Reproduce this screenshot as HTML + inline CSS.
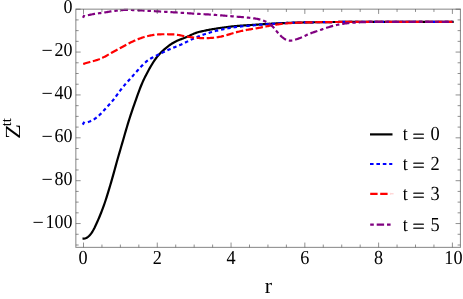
<!DOCTYPE html>
<html lang="en"><head><meta charset="utf-8"><title>Z^tt vs r</title>
<style>html,body{margin:0;padding:0;background:#fff}body{width:463px;height:299px;overflow:hidden}</style>
</head><body>
<svg width="463" height="299" viewBox="0 0 463 299" style="display:block">
<rect width="463" height="299" fill="#fff"/>
<g fill="none" stroke-width="2.2" stroke-linejoin="round">
<path d="M82.50 238.70 83.50 238.62 84.42 238.54 85.34 238.32 86.27 237.94 87.19 237.43 88.11 236.77 89.03 235.96 89.96 235.00 90.88 233.86 91.80 232.55 92.72 231.07 93.64 229.44 94.57 227.67 95.49 225.79 96.41 223.82 97.33 221.78 98.26 219.67 99.18 217.51 100.10 215.29 101.02 213.00 101.94 210.65 102.87 208.20 103.79 205.66 104.71 203.01 105.63 200.25 106.56 197.38 107.48 194.42 108.40 191.40 109.32 188.34 110.25 185.23 111.17 182.09 112.09 178.90 113.01 175.65 113.93 172.34 114.86 169.00 115.78 165.64 116.70 162.30 117.62 159.01 118.55 155.78 119.47 152.60 120.39 149.44 121.31 146.30 122.23 143.14 123.16 139.96 124.08 136.77 125.00 133.57 125.92 130.39 126.85 127.26 127.77 124.19 128.69 121.19 129.61 118.26 130.53 115.41 131.46 112.62 132.38 109.89 133.30 107.21 134.22 104.56 135.15 101.93 136.07 99.31 136.99 96.70 137.91 94.12 138.84 91.59 139.76 89.12 140.68 86.75 141.60 84.49 142.52 82.34 143.45 80.31 144.37 78.37 145.29 76.50 146.21 74.70 147.14 72.95 148.06 71.24 148.98 69.56 149.90 67.91 150.82 66.30 151.75 64.73 152.67 63.20 153.59 61.74 154.51 60.34 155.44 59.01 156.36 57.76 157.28 56.59 158.20 55.49 159.12 54.46 160.05 53.48 160.97 52.54 161.89 51.63 162.81 50.76 163.74 49.92 164.66 49.10 165.58 48.30 166.50 47.54 167.42 46.80 168.35 46.09 169.27 45.41 170.19 44.76 171.11 44.13 172.04 43.54 172.96 42.98 173.88 42.45 174.80 41.95 175.72 41.48 176.65 41.04 177.57 40.62 178.49 40.22 179.41 39.84 180.34 39.47 181.26 39.12 182.18 38.77 183.10 38.42 184.03 38.06 184.95 37.70 185.87 37.33 186.79 36.95 187.71 36.55 188.64 36.13 189.56 35.70 190.48 35.26 191.40 34.81 192.33 34.37 193.25 33.94 194.17 33.54 195.09 33.17 196.01 32.84 196.94 32.53 197.86 32.26 198.78 32.01 199.70 31.78 200.63 31.56 201.55 31.35 202.47 31.15 203.39 30.95 204.31 30.76 205.24 30.57 206.16 30.38 207.08 30.20 208.00 30.03 208.93 29.85 209.85 29.68 210.77 29.51 211.69 29.35 212.62 29.18 213.54 29.02 214.46 28.87 215.38 28.71 216.30 28.56 217.23 28.41 218.15 28.27 219.07 28.13 219.99 27.99 220.92 27.86 221.84 27.73 222.76 27.60 223.68 27.47 224.60 27.35 225.53 27.23 226.45 27.10 227.37 26.99 228.29 26.87 229.22 26.76 230.14 26.65 231.06 26.55 231.98 26.45 232.90 26.35 233.83 26.26 234.75 26.17 235.67 26.09 236.59 26.01 237.52 25.93 238.44 25.85 239.36 25.78 240.28 25.71 241.20 25.65 242.13 25.58 243.05 25.52 243.97 25.46 244.89 25.39 245.82 25.34 246.74 25.28 247.66 25.22 248.58 25.16 249.50 25.10 250.43 25.05 251.35 24.99 252.27 24.93 253.19 24.87 254.12 24.81 255.04 24.75 255.96 24.69 256.88 24.63 257.81 24.57 258.73 24.51 259.65 24.44 260.57 24.38 261.49 24.31 262.42 24.25 263.34 24.18 264.26 24.12 265.18 24.06 266.11 24.00 267.03 23.94 267.95 23.88 268.87 23.83 269.79 23.78 270.72 23.73 271.64 23.68 272.56 23.63 273.48 23.58 274.41 23.53 275.33 23.48 276.25 23.44 277.17 23.39 278.09 23.34 279.02 23.30 279.94 23.25 280.86 23.21 281.78 23.17 282.71 23.12 283.63 23.08 284.55 23.04 285.47 23.00 286.39 22.96 287.32 22.92 288.24 22.89 289.16 22.85 290.08 22.82 291.01 22.78 291.93 22.75 292.85 22.72 293.77 22.70 294.70 22.67 295.62 22.64 296.54 22.62 297.46 22.60 298.38 22.58 299.31 22.56 300.23 22.54 301.15 22.52 302.07 22.50 303.00 22.48 303.92 22.46 304.84 22.44 305.76 22.42 306.68 22.40 307.61 22.38 308.53 22.37 309.45 22.35 310.37 22.33 311.30 22.32 312.22 22.30 313.14 22.28 314.06 22.27 314.98 22.25 315.91 22.24 316.83 22.22 317.75 22.21 318.67 22.19 319.60 22.18 320.52 22.16 321.44 22.15 322.36 22.14 323.28 22.13 324.21 22.11 325.13 22.10 326.05 22.09 326.97 22.08 327.90 22.07 328.82 22.06 329.74 22.05 330.66 22.04 331.59 22.03 332.51 22.02 333.43 22.01 334.35 22.00 335.27 22.00 336.20 21.99 337.12 21.98 338.04 21.98 338.96 21.97 339.89 21.96 340.81 21.96 341.73 21.95 342.65 21.95 343.57 21.95 344.50 21.94 345.42 21.94 346.34 21.93 347.26 21.93 348.19 21.92 349.11 21.92 350.03 21.92 350.95 21.91 351.87 21.91 352.80 21.91 353.72 21.90 354.64 21.90 355.56 21.89 356.49 21.89 357.41 21.89 358.33 21.89 359.25 21.88 360.18 21.88 361.10 21.88 362.02 21.87 362.94 21.87 363.86 21.87 364.79 21.87 365.71 21.86 366.63 21.86 367.55 21.86 368.48 21.86 369.40 21.86 370.32 21.85 371.24 21.85 372.16 21.85 373.09 21.85 374.01 21.85 374.93 21.85 375.85 21.85 376.78 21.85 377.70 21.85 378.62 21.85 379.54 21.85 380.46 21.85 381.39 21.85 382.31 21.85 383.23 21.85 384.15 21.85 385.08 21.85 386.00 21.85 386.92 21.85 387.84 21.85 388.76 21.85 389.69 21.85 390.61 21.85 391.53 21.85 392.45 21.85 393.38 21.85 394.30 21.85 395.22 21.85 396.14 21.85 397.06 21.85 397.99 21.85 398.91 21.85 399.83 21.85 400.75 21.85 401.68 21.85 402.60 21.85 403.52 21.85 404.44 21.85 405.37 21.85 406.29 21.85 407.21 21.85 408.13 21.85 409.05 21.85 409.98 21.85 410.90 21.85 411.82 21.85 412.74 21.85 413.67 21.85 414.59 21.85 415.51 21.85 416.43 21.85 417.35 21.85 418.28 21.85 419.20 21.85 420.12 21.85 421.04 21.85 421.97 21.85 422.89 21.85 423.81 21.85 424.73 21.85 425.65 21.85 426.58 21.85 427.50 21.85 428.42 21.85 429.34 21.85 430.27 21.85 431.19 21.85 432.11 21.85 433.03 21.85 433.95 21.85 434.88 21.85 435.80 21.85 436.72 21.85 437.64 21.85 438.57 21.85 439.49 21.85 440.41 21.85 441.33 21.85 442.26 21.85 443.18 21.85 444.10 21.85 445.02 21.85 445.94 21.85 446.87 21.85 447.79 21.85 448.71 21.85 449.63 21.85 450.56 21.85 451.48 21.85 452.40 21.85 L453.70 21.85" stroke="#000"/>
<path d="M82.75 124.6 L84.35 121.8" stroke="#0000ff" stroke-width="2.2"/>
<path d="M87.89 122.10 88.80 121.78 89.71 121.43 90.62 121.04 91.54 120.62 92.45 120.16 93.36 119.66 94.27 119.11 95.18 118.51 96.09 117.86 97.00 117.16 97.91 116.41 98.83 115.61 99.74 114.77 100.65 113.89 101.56 112.97 102.47 112.03 103.38 111.06 104.29 110.07 105.20 109.07 106.12 108.06 107.03 107.05 107.94 106.04 108.85 105.03 109.76 104.02 110.67 103.00 111.58 101.95 112.49 100.87 113.41 99.75 114.32 98.58 115.23 97.38 116.14 96.14 117.05 94.89 117.96 93.63 118.87 92.38 119.78 91.14 120.70 89.92 121.61 88.73 122.52 87.57 123.43 86.45 124.34 85.37 125.25 84.32 126.16 83.30 127.07 82.30 127.99 81.31 128.90 80.30 129.81 79.29 130.72 78.26 131.63 77.22 132.54 76.18 133.45 75.14 134.36 74.11 135.28 73.09 136.19 72.08 137.10 71.08 138.01 70.08 138.92 69.07 139.83 68.07 140.74 67.07 141.66 66.09 142.57 65.13 143.48 64.21 144.39 63.33 145.30 62.49 146.21 61.71 147.12 60.98 148.03 60.31 148.95 59.68 149.86 59.09 150.77 58.53 151.68 58.00 152.59 57.49 153.50 57.01 154.41 56.54 155.32 56.08 156.24 55.63 157.15 55.18 158.06 54.75 158.97 54.31 159.88 53.87 160.79 53.44 161.70 53.00 162.61 52.57 163.53 52.13 164.44 51.69 165.35 51.25 166.26 50.81 167.17 50.38 168.08 49.96 168.99 49.54 169.90 49.14 170.82 48.74 171.73 48.36 172.64 47.99 173.55 47.62 174.46 47.26 175.37 46.90 176.28 46.54 177.19 46.19 178.11 45.82 179.02 45.46 179.93 45.08 180.84 44.69 181.75 44.29 182.66 43.87 183.57 43.44 184.49 43.00 185.40 42.55 186.31 42.09 187.22 41.63 188.13 41.17 189.04 40.71 189.95 40.26 190.86 39.81 191.78 39.37 192.69 38.94 193.60 38.52 194.51 38.11 195.42 37.71 196.33 37.32 197.24 36.94 198.15 36.58 199.07 36.22 199.98 35.87 200.89 35.53 201.80 35.20 202.71 34.88 203.62 34.57 204.53 34.26 205.44 33.96 206.36 33.67 207.27 33.38 208.18 33.10 209.09 32.83 210.00 32.55 210.91 32.29 211.82 32.02 212.73 31.77 213.65 31.52 214.56 31.27 215.47 31.03 216.38 30.80 217.29 30.57 218.20 30.35 219.11 30.14 220.02 29.93 220.94 29.72 221.85 29.52 222.76 29.33 223.67 29.14 224.58 28.95 225.49 28.76 226.40 28.58 227.32 28.41 228.23 28.23 229.14 28.07 230.05 27.91 230.96 27.75 231.87 27.61 232.78 27.47 233.69 27.33 234.61 27.20 235.52 27.08 236.43 26.97 237.34 26.86 238.25 26.75 239.16 26.65 240.07 26.55 240.98 26.46 241.90 26.37 242.81 26.28 243.72 26.19 244.63 26.11 245.54 26.03 246.45 25.95 247.36 25.87 248.27 25.79 249.19 25.71 250.10 25.64 251.01 25.56 251.92 25.48 252.83 25.41 253.74 25.33 254.65 25.25 255.56 25.17 256.48 25.10 257.39 25.02 258.30 24.94 259.21 24.85 260.12 24.77 261.03 24.69 261.94 24.61 262.85 24.53 263.77 24.45 264.68 24.38 265.59 24.30 266.50 24.23 267.41 24.16 268.32 24.09 269.23 24.03 270.14 23.97 271.06 23.91 271.97 23.85 272.88 23.79 273.79 23.73 274.70 23.68 275.61 23.62 276.52 23.56 277.44 23.51 278.35 23.45 279.26 23.40 280.17 23.35 281.08 23.29 281.99 23.24 282.90 23.19 283.81 23.14 284.73 23.09 285.64 23.05 286.55 23.00 287.46 22.96 288.37 22.92 289.28 22.88 290.19 22.84 291.10 22.80 292.02 22.77 292.93 22.73 293.84 22.70 294.75 22.67 295.66 22.65 296.57 22.62 297.48 22.60 298.39 22.57 299.31 22.55 300.22 22.53 301.13 22.51 302.04 22.49 302.95 22.47 303.86 22.45 304.77 22.44 305.68 22.42 306.60 22.40 307.51 22.38 308.42 22.36 309.33 22.34 310.24 22.33 311.15 22.31 312.06 22.29 312.97 22.28 313.89 22.26 314.80 22.25 315.71 22.23 316.62 22.22 317.53 22.20 318.44 22.19 319.35 22.18 320.27 22.16 321.18 22.15 322.09 22.14 323.00 22.12 323.91 22.11 324.82 22.10 325.73 22.09 326.64 22.08 327.56 22.07 328.47 22.06 329.38 22.05 330.29 22.04 331.20 22.03 332.11 22.02 333.02 22.01 333.93 22.01 334.85 22.00 335.76 21.99 336.67 21.98 337.58 21.98 338.49 21.97 339.40 21.97 340.31 21.96 341.22 21.96 342.14 21.95 343.05 21.95 343.96 21.94 344.87 21.94 345.78 21.94 346.69 21.93 347.60 21.93 348.51 21.92 349.43 21.92 350.34 21.92 351.25 21.91 352.16 21.91 353.07 21.90 353.98 21.90 354.89 21.90 355.80 21.89 356.72 21.89 357.63 21.89 358.54 21.88 359.45 21.88 360.36 21.88 361.27 21.88 362.18 21.87 363.10 21.87 364.01 21.87 364.92 21.87 365.83 21.86 366.74 21.86 367.65 21.86 368.56 21.86 369.47 21.86 370.39 21.85 371.30 21.85 372.21 21.85 373.12 21.85 374.03 21.85 374.94 21.85 375.85 21.85 376.76 21.85 377.68 21.85 378.59 21.85 379.50 21.85 380.41 21.85 381.32 21.85 382.23 21.85 383.14 21.85 384.05 21.85 384.97 21.85 385.88 21.85 386.79 21.85 387.70 21.85 388.61 21.85 389.52 21.85 390.43 21.85 391.34 21.85 392.26 21.85 393.17 21.85 394.08 21.85 394.99 21.85 395.90 21.85 396.81 21.85 397.72 21.85 398.63 21.85 399.55 21.85 400.46 21.85 401.37 21.85 402.28 21.85 403.19 21.85 404.10 21.85 405.01 21.85 405.92 21.85 406.84 21.85 407.75 21.85 408.66 21.85 409.57 21.85 410.48 21.85 411.39 21.85 412.30 21.85 413.22 21.85 414.13 21.85 415.04 21.85 415.95 21.85 416.86 21.85 417.77 21.85 418.68 21.85 419.59 21.85 420.51 21.85 421.42 21.85 422.33 21.85 423.24 21.85 424.15 21.85 425.06 21.85 425.97 21.85 426.88 21.85 427.80 21.85 428.71 21.85 429.62 21.85 430.53 21.85 431.44 21.85 432.35 21.85 433.26 21.85 434.17 21.85 435.09 21.85 436.00 21.85 436.91 21.85 437.82 21.85 438.73 21.85 439.64 21.85 440.55 21.85 441.46 21.85 442.38 21.85 443.29 21.85 444.20 21.85 445.11 21.85 446.02 21.85 446.93 21.85 447.84 21.85 448.75 21.85 449.67 21.85 450.58 21.85 451.49 21.85 452.40 21.85" stroke="#0000ff" stroke-dasharray="3.5 2.9"/>
<path d="M83.21 63.94 83.50 63.86 84.42 63.58 85.34 63.30 86.27 63.03 87.19 62.76 88.11 62.49 89.03 62.23 89.96 61.97 90.88 61.72 91.80 61.47 92.72 61.22 93.64 60.97 94.57 60.71 95.49 60.44 96.41 60.16 97.33 59.87 98.26 59.55 99.18 59.21 100.10 58.84 101.02 58.45 101.94 58.04 102.87 57.60 103.79 57.14 104.71 56.67 105.63 56.17 106.56 55.67 107.48 55.15 108.40 54.63 109.32 54.10 110.25 53.57 111.17 53.05 112.09 52.53 113.01 52.01 113.93 51.50 114.86 50.99 115.78 50.48 116.70 49.98 117.62 49.48 118.55 48.98 119.47 48.48 120.39 47.97 121.31 47.46 122.23 46.95 123.16 46.44 124.08 45.93 125.00 45.42 125.92 44.92 126.85 44.42 127.77 43.94 128.69 43.46 129.61 42.99 130.53 42.53 131.46 42.08 132.38 41.64 133.30 41.21 134.22 40.79 135.15 40.39 136.07 40.00 136.99 39.61 137.91 39.24 138.84 38.88 139.76 38.53 140.68 38.19 141.60 37.86 142.52 37.55 143.45 37.24 144.37 36.95 145.29 36.68 146.21 36.43 147.14 36.19 148.06 35.97 148.98 35.76 149.90 35.57 150.82 35.39 151.75 35.22 152.67 35.07 153.59 34.92 154.51 34.79 155.44 34.67 156.36 34.57 157.28 34.48 158.20 34.41 159.12 34.35 160.05 34.31 160.97 34.29 161.89 34.27 162.81 34.26 163.74 34.26 164.66 34.26 165.58 34.26 166.50 34.27 167.42 34.27 168.35 34.28 169.27 34.28 170.19 34.30 171.11 34.32 172.04 34.35 172.96 34.39 173.88 34.45 174.80 34.53 175.72 34.63 176.65 34.75 177.57 34.88 178.49 35.03 179.41 35.20 180.34 35.37 181.26 35.54 182.18 35.71 183.10 35.89 184.03 36.05 184.95 36.22 185.87 36.38 186.79 36.53 187.71 36.68 188.64 36.83 189.56 36.97 190.48 37.11 191.40 37.24 192.33 37.36 193.25 37.48 194.17 37.58 195.09 37.68 196.01 37.77 196.94 37.85 197.86 37.92 198.78 37.98 199.70 38.03 200.63 38.07 201.55 38.10 202.47 38.12 203.39 38.14 204.31 38.14 205.24 38.14 206.16 38.13 207.08 38.11 208.00 38.09 208.93 38.05 209.85 38.01 210.77 37.96 211.69 37.90 212.62 37.82 213.54 37.73 214.46 37.63 215.38 37.52 216.30 37.39 217.23 37.25 218.15 37.10 219.07 36.94 219.99 36.76 220.92 36.58 221.84 36.38 222.76 36.17 223.68 35.95 224.60 35.71 225.53 35.46 226.45 35.20 227.37 34.93 228.29 34.65 229.22 34.37 230.14 34.08 231.06 33.79 231.98 33.51 232.90 33.23 233.83 32.96 234.75 32.69 235.67 32.43 236.59 32.18 237.52 31.94 238.44 31.71 239.36 31.48 240.28 31.26 241.20 31.05 242.13 30.84 243.05 30.64 243.97 30.44 244.89 30.26 245.82 30.08 246.74 29.91 247.66 29.74 248.58 29.59 249.50 29.44 250.43 29.29 251.35 29.15 252.27 29.01 253.19 28.86 254.12 28.72 255.04 28.57 255.96 28.42 256.88 28.26 257.81 28.09 258.73 27.92 259.65 27.74 260.57 27.55 261.49 27.37 262.42 27.18 263.34 26.98 264.26 26.79 265.18 26.60 266.11 26.42 267.03 26.23 267.95 26.05 268.87 25.88 269.79 25.71 270.72 25.54 271.64 25.38 272.56 25.22 273.48 25.07 274.41 24.92 275.33 24.77 276.25 24.62 277.17 24.49 278.09 24.35 279.02 24.23 279.94 24.10 280.86 23.99 281.78 23.88 282.71 23.78 283.63 23.68 284.55 23.59 285.47 23.50 286.39 23.42 287.32 23.34 288.24 23.26 289.16 23.19 290.08 23.11 291.01 23.05 291.93 22.99 292.85 22.93 293.77 22.87 294.70 22.83 295.62 22.78 296.54 22.74 297.46 22.71 298.38 22.67 299.31 22.64 300.23 22.62 301.15 22.59 302.07 22.57 303.00 22.54 303.92 22.52 304.84 22.50 305.76 22.47 306.68 22.45 307.61 22.43 308.53 22.41 309.45 22.39 310.37 22.36 311.30 22.34 312.22 22.32 313.14 22.31 314.06 22.29 314.98 22.27 315.91 22.25 316.83 22.23 317.75 22.22 318.67 22.20 319.60 22.19 320.52 22.17 321.44 22.16 322.36 22.14 323.28 22.13 324.21 22.12 325.13 22.10 326.05 22.09 326.97 22.08 327.90 22.07 328.82 22.06 329.74 22.05 330.66 22.04 331.59 22.03 332.51 22.02 333.43 22.01 334.35 22.00 335.27 22.00 336.20 21.99 337.12 21.98 338.04 21.98 338.96 21.97 339.89 21.96 340.81 21.96 341.73 21.95 342.65 21.95 343.57 21.95 344.50 21.94 345.42 21.94 346.34 21.93 347.26 21.93 348.19 21.92 349.11 21.92 350.03 21.92 350.95 21.91 351.87 21.91 352.80 21.90 353.72 21.90 354.64 21.90 355.56 21.89 356.49 21.89 357.41 21.89 358.33 21.88 359.25 21.88 360.18 21.88 361.10 21.88 362.02 21.87 362.94 21.87 363.86 21.87 364.79 21.87 365.71 21.86 366.63 21.86 367.55 21.86 368.48 21.86 369.40 21.86 370.32 21.85 371.24 21.85 372.16 21.85 373.09 21.85 374.01 21.85 374.93 21.85 375.85 21.85 376.78 21.85 377.70 21.85 378.62 21.85 379.54 21.85 380.46 21.85 381.39 21.85 382.31 21.85 383.23 21.85 384.15 21.85 385.08 21.85 386.00 21.85 386.92 21.85 387.84 21.85 388.76 21.85 389.69 21.85 390.61 21.85 391.53 21.85 392.45 21.85 393.38 21.85 394.30 21.85 395.22 21.85 396.14 21.85 397.06 21.85 397.99 21.85 398.91 21.85 399.83 21.85 400.75 21.85 401.68 21.85 402.60 21.85 403.52 21.85 404.44 21.85 405.37 21.85 406.29 21.85 407.21 21.85 408.13 21.85 409.05 21.85 409.98 21.85 410.90 21.85 411.82 21.85 412.74 21.85 413.67 21.85 414.59 21.85 415.51 21.85 416.43 21.85 417.35 21.85 418.28 21.85 419.20 21.85 420.12 21.85 421.04 21.85 421.97 21.85 422.89 21.85 423.81 21.85 424.73 21.85 425.65 21.85 426.58 21.85 427.50 21.85 428.42 21.85 429.34 21.85 430.27 21.85 431.19 21.85 432.11 21.85 433.03 21.85 433.95 21.85 434.88 21.85 435.80 21.85 436.72 21.85 437.64 21.85 438.57 21.85 439.49 21.85 440.41 21.85 441.33 21.85 442.26 21.85 443.18 21.85 444.10 21.85 445.02 21.85 445.94 21.85 446.87 21.85 447.79 21.85 448.71 21.85 449.63 21.85 450.56 21.85 451.48 21.85 452.40 21.85" stroke="#ff0000" stroke-dasharray="7.4 2.6"/>
<path d="M83.0 17.8 L84.4 15.0" stroke="#800080" stroke-width="2.2"/>
<path d="M87.89 15.23 88.80 15.04 89.71 14.85 90.62 14.65 91.54 14.46 92.45 14.27 93.36 14.09 94.27 13.92 95.18 13.77 96.09 13.63 97.00 13.51 97.91 13.39 98.83 13.28 99.74 13.17 100.65 13.05 101.56 12.93 102.47 12.81 103.38 12.67 104.29 12.53 105.20 12.38 106.12 12.23 107.03 12.06 107.94 11.90 108.85 11.73 109.76 11.57 110.67 11.42 111.58 11.28 112.49 11.14 113.41 11.02 114.32 10.90 115.23 10.79 116.14 10.68 117.05 10.57 117.96 10.47 118.87 10.38 119.78 10.29 120.70 10.20 121.61 10.13 122.52 10.07 123.43 10.01 124.34 9.97 125.25 9.94 126.16 9.92 127.07 9.91 127.99 9.92 128.90 9.93 129.81 9.95 130.72 9.98 131.63 10.00 132.54 10.03 133.45 10.06 134.36 10.09 135.28 10.13 136.19 10.17 137.10 10.21 138.01 10.25 138.92 10.30 139.83 10.34 140.74 10.39 141.66 10.44 142.57 10.49 143.48 10.54 144.39 10.59 145.30 10.64 146.21 10.69 147.12 10.74 148.03 10.79 148.95 10.85 149.86 10.90 150.77 10.95 151.68 11.01 152.59 11.06 153.50 11.12 154.41 11.17 155.32 11.23 156.24 11.28 157.15 11.34 158.06 11.39 158.97 11.44 159.88 11.49 160.79 11.55 161.70 11.60 162.61 11.65 163.53 11.70 164.44 11.75 165.35 11.80 166.26 11.86 167.17 11.91 168.08 11.96 168.99 12.01 169.90 12.06 170.82 12.12 171.73 12.17 172.64 12.23 173.55 12.28 174.46 12.34 175.37 12.39 176.28 12.45 177.19 12.51 178.11 12.57 179.02 12.63 179.93 12.69 180.84 12.75 181.75 12.82 182.66 12.88 183.57 12.94 184.49 13.01 185.40 13.07 186.31 13.13 187.22 13.20 188.13 13.26 189.04 13.32 189.95 13.38 190.86 13.44 191.78 13.50 192.69 13.56 193.60 13.61 194.51 13.67 195.42 13.72 196.33 13.77 197.24 13.82 198.15 13.87 199.07 13.93 199.98 13.98 200.89 14.03 201.80 14.08 202.71 14.13 203.62 14.18 204.53 14.23 205.44 14.28 206.36 14.33 207.27 14.39 208.18 14.44 209.09 14.50 210.00 14.55 210.91 14.61 211.82 14.67 212.73 14.73 213.65 14.79 214.56 14.86 215.47 14.92 216.38 14.99 217.29 15.06 218.20 15.13 219.11 15.21 220.02 15.28 220.94 15.36 221.85 15.43 222.76 15.51 223.67 15.59 224.58 15.66 225.49 15.74 226.40 15.82 227.32 15.90 228.23 15.98 229.14 16.06 230.05 16.14 230.96 16.22 231.87 16.30 232.78 16.38 233.69 16.45 234.61 16.53 235.52 16.60 236.43 16.68 237.34 16.75 238.25 16.82 239.16 16.89 240.07 16.96 240.98 17.02 241.90 17.09 242.81 17.16 243.72 17.23 244.63 17.31 245.54 17.38 246.45 17.47 247.36 17.55 248.27 17.64 249.19 17.74 250.10 17.84 251.01 17.95 251.92 18.06 252.83 18.18 253.74 18.31 254.65 18.45 255.56 18.59 256.48 18.75 257.39 18.91 258.30 19.10 259.21 19.31 260.12 19.54 261.03 19.80 261.94 20.09 262.85 20.42 263.77 20.78 264.68 21.17 265.59 21.58 266.50 22.03 267.41 22.51 268.32 23.04 269.23 23.62 270.14 24.28 271.06 25.02 271.97 25.86 272.88 26.79 273.79 27.81 274.70 28.88 275.61 29.99 276.52 31.10 277.44 32.19 278.35 33.26 279.26 34.28 280.17 35.25 281.08 36.15 281.99 36.98 282.90 37.72 283.81 38.38 284.73 38.95 285.64 39.45 286.55 39.87 287.46 40.21 288.37 40.45 289.28 40.60 290.19 40.65 291.10 40.61 292.02 40.49 292.93 40.32 293.84 40.09 294.75 39.84 295.66 39.56 296.57 39.26 297.48 38.96 298.39 38.64 299.31 38.30 300.22 37.95 301.13 37.58 302.04 37.18 302.95 36.77 303.86 36.34 304.77 35.90 305.68 35.47 306.60 35.04 307.51 34.62 308.42 34.23 309.33 33.85 310.24 33.48 311.15 33.14 312.06 32.80 312.97 32.48 313.89 32.16 314.80 31.85 315.71 31.54 316.62 31.24 317.53 30.93 318.44 30.63 319.35 30.32 320.27 30.01 321.18 29.70 322.09 29.38 323.00 29.06 323.91 28.75 324.82 28.43 325.73 28.12 326.64 27.81 327.56 27.51 328.47 27.22 329.38 26.94 330.29 26.67 331.20 26.41 332.11 26.16 333.02 25.91 333.93 25.67 334.85 25.44 335.76 25.22 336.67 25.00 337.58 24.79 338.49 24.60 339.40 24.41 340.31 24.24 341.22 24.08 342.14 23.93 343.05 23.79 343.96 23.65 344.87 23.53 345.78 23.41 346.69 23.30 347.60 23.19 348.51 23.09 349.43 23.00 350.34 22.91 351.25 22.83 352.16 22.75 353.07 22.68 353.98 22.62 354.89 22.56 355.80 22.50 356.72 22.44 357.63 22.39 358.54 22.34 359.45 22.29 360.36 22.24 361.27 22.20 362.18 22.16 363.10 22.12 364.01 22.09 364.92 22.06 365.83 22.03 366.74 22.01 367.65 22.00 368.56 21.98 369.47 21.97 370.39 21.96 371.30 21.95 372.21 21.94 373.12 21.93 374.03 21.92 374.94 21.91 375.85 21.90 376.76 21.89 377.68 21.88 378.59 21.88 379.50 21.87 380.41 21.86 381.32 21.86 382.23 21.86 383.14 21.85 384.05 21.85 384.97 21.85 385.88 21.85 386.79 21.85 387.70 21.85 388.61 21.85 389.52 21.85 390.43 21.85 391.34 21.85 392.26 21.85 393.17 21.85 394.08 21.85 394.99 21.85 395.90 21.85 396.81 21.85 397.72 21.85 398.63 21.85 399.55 21.85 400.46 21.85 401.37 21.85 402.28 21.85 403.19 21.85 404.10 21.85 405.01 21.85 405.92 21.85 406.84 21.85 407.75 21.85 408.66 21.85 409.57 21.85 410.48 21.85 411.39 21.85 412.30 21.85 413.22 21.85 414.13 21.85 415.04 21.85 415.95 21.85 416.86 21.85 417.77 21.85 418.68 21.85 419.59 21.85 420.51 21.85 421.42 21.85 422.33 21.85 423.24 21.85 424.15 21.85 425.06 21.85 425.97 21.85 426.88 21.85 427.80 21.85 428.71 21.85 429.62 21.85 430.53 21.85 431.44 21.85 432.35 21.85 433.26 21.85 434.17 21.85 435.09 21.85 436.00 21.85 436.91 21.85 437.82 21.85 438.73 21.85 439.64 21.85 440.55 21.85 441.46 21.85 442.38 21.85 443.29 21.85 444.20 21.85 445.11 21.85 446.02 21.85 446.93 21.85 447.84 21.85 448.75 21.85 449.67 21.85 450.58 21.85 451.49 21.85 452.40 21.85" stroke="#800080" stroke-dasharray="7.3 2.9 3.5 2.9"/>
</g>
<rect x="75.85" y="9.15" width="384.55" height="238.20" fill="none" stroke="#858585" stroke-width="1"/>
<path d="M83.50 247.35 v-4.80 M83.50 9.15 v4.80 M101.94 247.35 v-2.80 M101.94 9.15 v2.80 M120.39 247.35 v-2.80 M120.39 9.15 v2.80 M138.84 247.35 v-2.80 M138.84 9.15 v2.80 M157.28 247.35 v-4.80 M157.28 9.15 v4.80 M175.72 247.35 v-2.80 M175.72 9.15 v2.80 M194.17 247.35 v-2.80 M194.17 9.15 v2.80 M212.62 247.35 v-2.80 M212.62 9.15 v2.80 M231.06 247.35 v-4.80 M231.06 9.15 v4.80 M249.50 247.35 v-2.80 M249.50 9.15 v2.80 M267.95 247.35 v-2.80 M267.95 9.15 v2.80 M286.39 247.35 v-2.80 M286.39 9.15 v2.80 M304.84 247.35 v-4.80 M304.84 9.15 v4.80 M323.28 247.35 v-2.80 M323.28 9.15 v2.80 M341.73 247.35 v-2.80 M341.73 9.15 v2.80 M360.18 247.35 v-2.80 M360.18 9.15 v2.80 M378.62 247.35 v-4.80 M378.62 9.15 v4.80 M397.06 247.35 v-2.80 M397.06 9.15 v2.80 M415.51 247.35 v-2.80 M415.51 9.15 v2.80 M433.95 247.35 v-2.80 M433.95 9.15 v2.80 M452.40 247.35 v-4.80 M452.40 9.15 v4.80 M75.85 9.20 h4.80 M460.40 9.20 h-4.80 M75.85 19.92 h2.80 M460.40 19.92 h-2.80 M75.85 30.64 h2.80 M460.40 30.64 h-2.80 M75.85 41.35 h2.80 M460.40 41.35 h-2.80 M75.85 52.07 h4.80 M460.40 52.07 h-4.80 M75.85 62.79 h2.80 M460.40 62.79 h-2.80 M75.85 73.51 h2.80 M460.40 73.51 h-2.80 M75.85 84.23 h2.80 M460.40 84.23 h-2.80 M75.85 94.94 h4.80 M460.40 94.94 h-4.80 M75.85 105.66 h2.80 M460.40 105.66 h-2.80 M75.85 116.38 h2.80 M460.40 116.38 h-2.80 M75.85 127.10 h2.80 M460.40 127.10 h-2.80 M75.85 137.82 h4.80 M460.40 137.82 h-4.80 M75.85 148.53 h2.80 M460.40 148.53 h-2.80 M75.85 159.25 h2.80 M460.40 159.25 h-2.80 M75.85 169.97 h2.80 M460.40 169.97 h-2.80 M75.85 180.69 h4.80 M460.40 180.69 h-4.80 M75.85 191.41 h2.80 M460.40 191.41 h-2.80 M75.85 202.12 h2.80 M460.40 202.12 h-2.80 M75.85 212.84 h2.80 M460.40 212.84 h-2.80 M75.85 223.56 h4.80 M460.40 223.56 h-4.80 M75.85 234.28 h2.80 M460.40 234.28 h-2.80 M75.85 245.00 h2.80 M460.40 245.00 h-2.80" stroke="#444" stroke-width="0.6" fill="none"/>
<g font-family="'Liberation Serif', 'Times New Roman', serif" fill="#000" style="will-change:transform" text-rendering="geometricPrecision">
<text transform="translate(83.00 264.10) scale(1.000 1.090)" font-size="18.2" text-anchor="middle">0</text>
<text transform="translate(157.28 264.10) scale(1.000 1.090)" font-size="18.2" text-anchor="middle">2</text>
<text transform="translate(231.06 264.10) scale(1.000 1.090)" font-size="18.2" text-anchor="middle">4</text>
<text transform="translate(304.84 264.10) scale(1.000 1.090)" font-size="18.2" text-anchor="middle">6</text>
<text transform="translate(378.62 264.10) scale(1.000 1.090)" font-size="18.2" text-anchor="middle">8</text>
<text transform="translate(453.40 264.10) scale(1.000 1.090)" font-size="18.2" text-anchor="middle">10</text>
<text transform="translate(72.50 13.40) scale(1.000 1.090)" font-size="18.0" text-anchor="end">0</text>
<text transform="translate(72.50 56.27) scale(1.000 1.090)" font-size="18.0" text-anchor="end">20</text>
<text transform="translate(52.90 57.17) scale(1.000 1.000)" font-size="20.0" text-anchor="end">−</text>
<text transform="translate(72.50 99.14) scale(1.000 1.090)" font-size="18.0" text-anchor="end">40</text>
<text transform="translate(52.90 100.04) scale(1.000 1.000)" font-size="20.0" text-anchor="end">−</text>
<text transform="translate(72.50 142.02) scale(1.000 1.090)" font-size="18.0" text-anchor="end">60</text>
<text transform="translate(52.90 142.92) scale(1.000 1.000)" font-size="20.0" text-anchor="end">−</text>
<text transform="translate(72.50 184.89) scale(1.000 1.090)" font-size="18.0" text-anchor="end">80</text>
<text transform="translate(52.90 185.79) scale(1.000 1.000)" font-size="20.0" text-anchor="end">−</text>
<text transform="translate(72.50 227.76) scale(1.000 1.090)" font-size="18.0" text-anchor="end">100</text>
<text transform="translate(43.90 228.66) scale(1.000 1.000)" font-size="20.0" text-anchor="end">−</text>
<text x="268.4" y="292.8" font-size="22" text-anchor="middle">r</text>
<text transform="translate(20.2 138.9) rotate(-90) scale(1.14 1)" font-size="21.5">Z</text>
<text transform="translate(11.1 126.3) rotate(-90)" font-size="14.5">tt</text>
<text transform="translate(402.80 140.20) scale(1.000 1.090)" font-size="18.0" text-anchor="start">t</text>
<text transform="translate(418.70 142.50) scale(1.080 1.000)" font-size="20.0" text-anchor="middle" stroke="#000" stroke-width="0.35">=</text>
<text transform="translate(430.40 140.20) scale(1.000 1.090)" font-size="18.4" text-anchor="start">0</text>
<text transform="translate(402.80 169.80) scale(1.000 1.090)" font-size="18.0" text-anchor="start">t</text>
<text transform="translate(418.70 172.10) scale(1.080 1.000)" font-size="20.0" text-anchor="middle" stroke="#000" stroke-width="0.35">=</text>
<text transform="translate(430.40 169.80) scale(1.000 1.090)" font-size="18.4" text-anchor="start">2</text>
<text transform="translate(402.80 199.70) scale(1.000 1.090)" font-size="18.0" text-anchor="start">t</text>
<text transform="translate(418.70 202.00) scale(1.080 1.000)" font-size="20.0" text-anchor="middle" stroke="#000" stroke-width="0.35">=</text>
<text transform="translate(430.40 199.70) scale(1.000 1.090)" font-size="18.4" text-anchor="start">3</text>
<text transform="translate(402.80 230.50) scale(1.000 1.090)" font-size="18.0" text-anchor="start">t</text>
<text transform="translate(418.70 232.80) scale(1.080 1.000)" font-size="20.0" text-anchor="middle" stroke="#000" stroke-width="0.35">=</text>
<text transform="translate(430.40 230.50) scale(1.000 1.090)" font-size="18.4" text-anchor="start">5</text>
</g>
<g fill="none" stroke-width="2.2">
<path d="M370 134.40 H392.5" stroke="#000"/>
<path d="M370 164.00 H392.3" stroke="#0000ff" stroke-dasharray="3.6 2.8"/>
<path d="M370.2 193.80 H390.3" stroke="#ff0000" stroke-dasharray="7.4 2.6"/>
<path d="M390.6 193.80 H393.6" stroke="#ff0000" stroke-width="0.5" opacity="0.45"/>
<path d="M370.2 224.70 H391" stroke="#800080" stroke-dasharray="3.6 2.9 7.4 2.9"/>
</g>
</svg>
</body></html>
